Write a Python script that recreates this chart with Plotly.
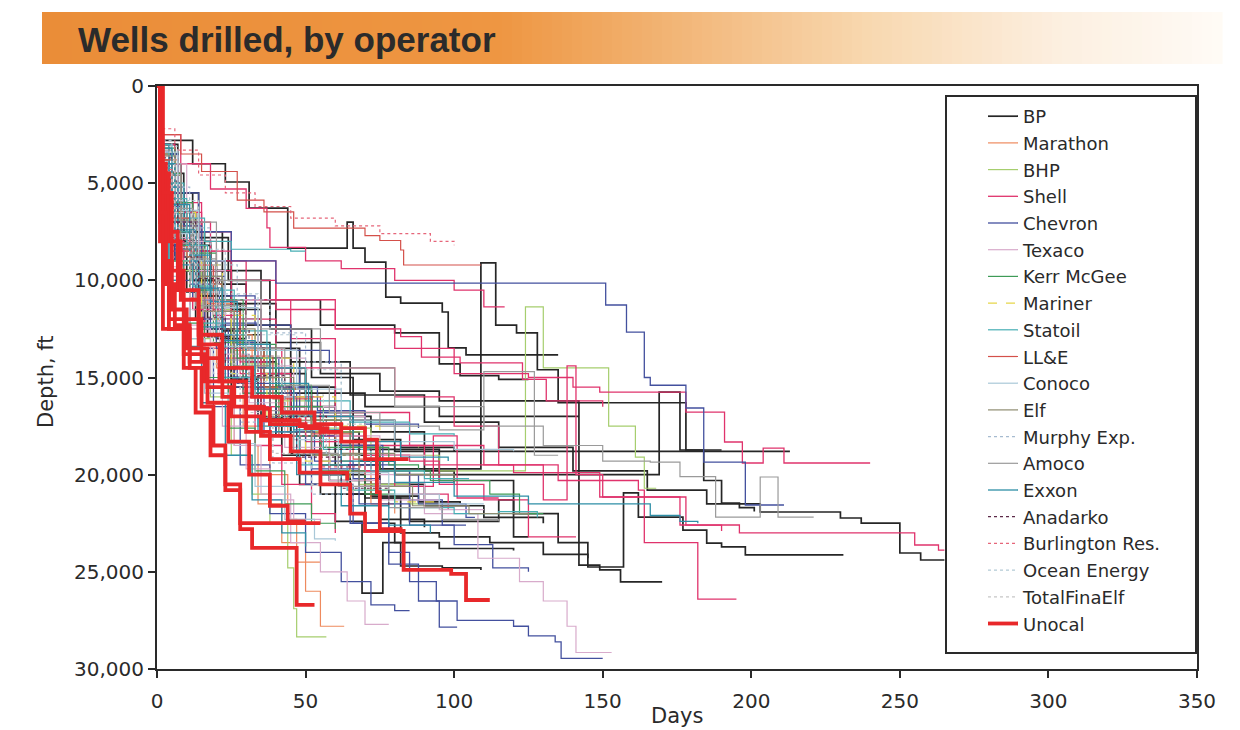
import plotly.graph_objects as go

# ---------------- data (day, depth ft) breakpoints ----------------
OPERATORS = ["BP", "Marathon", "BHP", "Shell", "Chevron", "Texaco", "Kerr McGee", "Mariner",
             "Statoil", "LL&E", "Conoco", "Elf", "Murphy Exp.", "Amoco", "Exxon", "Anadarko",
             "Burlington Res.", "Ocean Energy", "TotalFinaElf", "Unocal"]

X_TICKS = [0, 50, 100, 150, 200, 250, 300, 350]
Y_TICKS = [0, 5000, 10000, 15000, 20000, 25000, 30000]

BP_WELLS = [
    [(0, 0), (1, 2800), (12, 4000), (23, 4940), (31, 6280), (44, 8340), (64, 7000), (66, 8340), (70, 9060),
     (77, 10860), (82, 11170), (96, 11630), (98, 13480), (104, 13840), (135, 13840)],
    [(0, 0), (1, 3500), (4, 6000), (10, 8200), (18, 10200), (30, 12300), (45, 14200), (65, 15900), (90, 17300),
     (115, 18600), (140, 19800), (165, 20800), (185, 21500), (203, 21920), (230, 22230), (237, 22490),
     (250, 24030), (257, 24390), (265, 24390)],
    [(0, 0), (1, 4000), (5, 7000), (12, 9500), (22, 12000), (35, 14500), (50, 16800), (70, 18700), (95, 20300),
     (120, 22000), (135, 23500), (145, 24750), (157, 20940), (162, 22180), (177, 22850), (185, 23520),
     (190, 23720), (198, 24130), (231, 24130)],
    [(0, 0), (2, 3000), (7, 5500), (14, 7800), (24, 10000), (38, 12500), (52, 15000), (66, 17200), (80, 18800),
     (213, 18800)],
    [(0, 0), (1, 4500), (6, 8000), (14, 10800), (25, 13200), (38, 15600), (52, 17800), (68, 19300), (80, 20000),
     (169, 15750), (176, 18730), (184, 20300), (190, 21460), (196, 21700), (201, 21900)],
    [(0, 0), (2, 5000), (8, 8500), (18, 11500), (30, 14000), (45, 16500), (60, 18500), (75, 19700), (109, 9100),
     (114, 12300), (121, 12700), (128, 14600), (135, 16300), (176, 16300), (178, 18730), (190, 18730)],
    [(0, 0), (2, 4000), (8, 7000), (15, 9000), (25, 11200), (40, 13200), (55, 14800), (75, 15700), (95, 16200),
     (142, 24650), (149, 24900), (156, 25520), (170, 25520)],
    [(0, 0), (1, 5000), (6, 9000), (13, 12000), (22, 15000), (35, 18000), (48, 20500), (60, 22400), (69, 26100),
     (76, 23500), (82, 24700), (96, 24800), (109, 24900)],
    [(0, 0), (2, 4500), (9, 8000), (18, 11000), (30, 14000), (45, 17000), (60, 19500), (75, 21200), (82, 23000),
     (95, 23200), (112, 23500), (130, 24100), (145, 24300)],
    [(0, 0), (1, 3500), (5, 7000), (12, 10000), (20, 13000), (30, 16000), (42, 19000), (55, 21000), (70, 22500),
     (80, 23500), (95, 23800), (120, 23900)],
    [(0, 0), (1, 3000), (4, 5500), (9, 7500), (16, 9500), (25, 11500), (35, 13500), (48, 15500), (60, 17000),
     (72, 17800), (90, 19800), (100, 20400)],
    [(0, 0), (2, 3500), (7, 6500), (13, 9000), (20, 11200), (28, 13500), (36, 15500), (45, 17800), (55, 19500),
     (65, 21000), (75, 22300), (90, 22700)],
    [(0, 0), (1, 4000), (5, 7500), (12, 10000), (22, 12800), (35, 14800), (50, 15800), (70, 16500), (95, 17000),
     (142, 17000)],
    [(0, 0), (2, 6000), (8, 9500), (16, 12500), (26, 15000), (40, 17500), (55, 19000), (70, 20500), (90, 21600),
     (110, 22200), (130, 22500)],
    [(0, 0), (1, 5500), (7, 9500), (15, 12500), (25, 15500), (40, 18000), (55, 20000), (70, 21200), (85, 22400),
     (110, 22400), (115, 21300), (120, 23200), (125, 23200)],
    [(0, 0), (1, 3000), (6, 5500), (12, 7500), (22, 9500), (35, 11000), (55, 12300), (80, 12700), (95, 14300),
     (102, 14900), (115, 15100), (125, 15100)],
    [(0, 0), (1, 3800), (4, 6500), (9, 8800), (15, 10800), (22, 12600), (30, 14200), (40, 15800), (52, 17200),
     (66, 18200), (82, 18600), (100, 18800)],
    [(0, 0), (1, 4800), (5, 8200), (10, 10600), (17, 12900), (25, 15100), (34, 17100), (45, 18900), (58, 20300),
     (72, 21100), (88, 21400), (102, 21500)],
]

MARATHON_WELLS = [
    [(0, 0), (1, 5000), (5, 9000), (11, 12500), (18, 15500), (26, 18500), (34, 21500), (42, 23500), (50, 26000),
     (55, 27800), (63, 27800)],
    [(0, 0), (1, 4500), (5, 8500), (12, 11500), (20, 14500), (29, 17500), (38, 20000), (44, 22300), (47, 24500),
     (55, 24500)],
    [(0, 0), (2, 3800), (7, 7200), (14, 10200), (22, 12800), (32, 15500), (44, 17800), (58, 19800), (72, 21500),
     (80, 22000)],
    [(0, 0), (1, 3200), (4, 6000), (10, 8800), (17, 11200), (26, 13600), (36, 15600), (48, 17200), (60, 18200)],
]

BHP_WELLS = [
    [(0, 0), (1, 4000), (6, 7500), (13, 10500), (22, 13500), (35, 16000), (50, 17800), (70, 19000), (95, 19800),
     (124, 11370), (130, 14500), (150, 14500), (152, 17500), (161, 19100), (164, 20700), (168, 20700)],
    [(0, 0), (1, 5500), (5, 9500), (11, 13000), (18, 16000), (25, 19000), (32, 21000), (38, 22500), (44, 24800),
     (46, 26900), (47, 28350), (57, 28350)],
    [(0, 0), (2, 4500), (8, 8500), (15, 11500), (25, 14500), (38, 17000), (52, 19000), (68, 20500), (85, 21500),
     (95, 21500)],
    [(0, 0), (1, 3500), (5, 6800), (11, 9500), (19, 12000), (29, 14300), (41, 16200), (55, 17600), (72, 18500),
     (88, 18600)],
]

SHELL_WELLS = [
    [(0, 0), (2, 4000), (8, 6000), (15, 7500), (25, 9000), (40, 11000), (60, 12500), (80, 13500), (100, 14800),
     (125, 15000), (140, 15500), (149, 15750), (178, 16780), (191, 18320), (197, 19400), (204, 18630),
     (211, 19400), (240, 19400)],
    [(0, 0), (2, 4500), (8, 7000), (18, 9000), (30, 11000), (45, 13000), (60, 14500), (80, 16000), (100, 17500),
     (115, 19500), (130, 21300), (138, 14400), (141, 20000), (150, 21150), (176, 22590), (196, 23000),
     (255, 23620), (263, 23880), (265, 23880)],
    [(0, 0), (1, 4000), (6, 7000), (14, 9500), (25, 12000), (40, 14500), (60, 16800), (85, 18500), (110, 19500),
     (135, 20300), (162, 20800), (164, 23500), (182, 26400), (195, 26400)],
    [(0, 0), (1, 2500), (8, 4000), (18, 5300), (30, 6300), (37, 7300), (38, 8300), (50, 9000), (62, 9400),
     (80, 10000), (100, 10500), (110, 11370), (117, 11370)],
    [(0, 0), (2, 4000), (7, 6500), (15, 8500), (25, 10000), (40, 11500), (60, 12500), (82, 12900), (89, 13950),
     (102, 14250), (123, 15100), (131, 16200), (150, 16500)],
    [(0, 0), (1, 5000), (5, 8500), (12, 11500), (22, 14000), (35, 16500), (50, 18000), (70, 19000), (85, 19300),
     (95, 20500), (110, 21300), (125, 23200), (141, 23200)],
    [(0, 0), (2, 3000), (6, 6000), (12, 8500), (20, 11000), (30, 13500), (42, 16000), (55, 18000), (70, 19800),
     (85, 21000), (98, 21800)],
    [(0, 0), (1, 4500), (4, 8000), (9, 11000), (16, 13500), (24, 16000), (33, 18500), (42, 20500), (52, 22000),
     (60, 23000)],
    [(0, 0), (2, 5500), (8, 9000), (16, 12000), (28, 14800), (45, 17000), (65, 18500), (90, 19500), (120, 19900),
     (149, 21150), (176, 21150), (178, 22600), (190, 22900)],
    [(0, 0), (1, 3500), (5, 6500), (11, 9200), (19, 11800), (28, 14200), (38, 16500), (50, 18300), (65, 19800),
     (80, 20600), (92, 20600), (93, 18000), (100, 18000), (101, 21200), (115, 21200)],
]

CHEVRON_WELLS = [
    [(0, 0), (1, 3500), (6, 5500), (14, 7500), (25, 9000), (40, 10140), (151, 11270), (158, 12660), (164, 15000),
     (166, 15400), (178, 16570), (184, 19350), (198, 21560), (211, 21560)],
    [(0, 0), (1, 5000), (6, 9000), (14, 12500), (24, 15500), (36, 18000), (50, 20500), (65, 22500), (78, 24000),
     (85, 25500), (94, 26500), (101, 27500), (120, 27800), (125, 28300), (134, 28600), (136, 29450), (150, 29450)],
    [(0, 0), (1, 6000), (5, 10000), (11, 13500), (19, 16500), (28, 19500), (38, 22000), (50, 24000), (62, 25500),
     (72, 26700), (80, 27000), (85, 27000)],
    [(0, 0), (2, 5000), (8, 9000), (16, 12000), (26, 15000), (38, 18000), (52, 20500), (66, 22500), (78, 24600),
     (88, 26500), (95, 27850), (101, 27850)],
    [(0, 0), (1, 4000), (6, 7500), (13, 10500), (22, 13200), (33, 15800), (47, 18000), (62, 19500), (80, 20000),
     (88, 21500), (104, 22200), (107, 22200)],
    [(0, 0), (2, 3500), (7, 7000), (14, 9800), (23, 12200), (34, 14500), (48, 16800), (62, 18500), (76, 19800),
     (85, 21300), (96, 22600), (104, 22600)],
    [(0, 0), (1, 3000), (4, 5200), (9, 7200), (15, 9000), (23, 10800), (33, 12300), (45, 13600), (58, 14300)],
    [(0, 0), (1, 4200), (5, 7800), (11, 10200), (18, 12800), (27, 15300), (38, 17500), (52, 19700), (68, 21500),
     (85, 22600), (100, 23600), (113, 24800), (125, 25000)],
    [(0, 0), (1, 3400), (4, 6200), (8, 8400), (14, 10400), (21, 12300), (30, 14000), (41, 15500), (54, 16700),
     (70, 17400), (88, 17600)],
    [(0, 0), (2, 4600), (6, 8200), (12, 11000), (20, 13500), (29, 15800), (40, 17800), (53, 19300), (66, 20200),
     (75, 20500)],
]

TEXACO_WELLS = [
    [(0, 0), (2, 4000), (10, 8000), (20, 11000), (35, 14000), (50, 17000), (70, 20000), (90, 22000), (108, 24300),
     (122, 25500), (130, 26500), (138, 27800), (141, 29150), (153, 29150)],
    [(0, 0), (1, 5000), (5, 9000), (11, 12500), (18, 15500), (26, 18500), (35, 21000), (45, 23500), (55, 25000),
     (64, 26500), (70, 27700), (78, 27700)],
    [(0, 0), (1, 4000), (6, 7800), (13, 11000), (21, 13800), (31, 16300), (43, 18600), (58, 20300), (75, 21300),
     (95, 21800), (110, 21800)],
    [(0, 0), (2, 3600), (7, 6800), (14, 9500), (23, 12000), (34, 14400), (46, 16500), (60, 18000), (75, 19000),
     (90, 19200)],
    [(0, 0), (1, 5200), (4, 9300), (9, 12300), (15, 15000), (22, 17500), (30, 19700), (38, 21300), (46, 22300),
     (55, 22500)],
]

KERR_MCGEE_WELLS = [
    [(0, 0), (1, 4000), (5, 7500), (11, 10500), (19, 13200), (29, 15800), (41, 18000), (55, 19800), (70, 21000),
     (80, 21200)],
    [(0, 0), (2, 3200), (6, 6000), (12, 8600), (20, 11000), (29, 13300), (40, 15400), (52, 17200), (65, 18600),
     (78, 19500), (88, 19700)],
    [(0, 0), (1, 5000), (4, 9000), (9, 12200), (16, 15000), (24, 17600), (33, 19800), (43, 21500), (52, 22500),
     (60, 22800)],
    [(0, 0), (2, 4500), (8, 8200), (16, 11300), (27, 14000), (40, 16500), (56, 18600), (75, 19800), (92, 20300),
     (112, 21000), (122, 22000), (130, 22000)],
]

MARINER_WELLS = [
    [(0, 0), (1, 3500), (6, 6500), (13, 9200), (22, 11800), (33, 14000), (46, 16000), (60, 17500), (75, 18300)],
    [(0, 0), (2, 5000), (7, 9000), (15, 12000), (25, 14800), (37, 17300), (50, 19300), (65, 20800), (80, 21400),
     (95, 21500)],
]

STATOIL_WELLS = [
    [(0, 0), (1, 4200), (5, 7500), (12, 10300), (20, 12800), (30, 15000), (42, 17000), (56, 18700), (72, 19800),
     (90, 20200), (105, 20200)],
    [(0, 0), (1, 3000), (5, 5800), (10, 8200), (17, 10500), (26, 12600), (37, 14500), (50, 16200), (65, 17300),
     (85, 17900), (100, 18000)],
    [(0, 0), (2, 5000), (7, 9000), (14, 12200), (23, 15000), (34, 17500), (48, 19500), (64, 20800), (80, 21700),
     (100, 22000), (115, 21900), (128, 22200)],
    [(0, 0), (1, 3000), (4, 5000), (9, 6800), (16, 8000), (25, 8400), (45, 8500), (50, 8500)],
]

LLE_WELLS = [
    [(0, 0), (1, 2500), (8, 3500), (15, 4400), (27, 5870), (36, 6480), (46, 7310), (69, 7310), (70, 7700),
     (75, 7950), (82, 8440), (83, 9210), (109, 9210)],
    [(0, 0), (1, 3800), (5, 6800), (11, 9200), (19, 11600), (28, 13900), (39, 16100), (52, 17900), (66, 19200),
     (80, 19900)],
]

CONOCO_WELLS = [
    [(0, 0), (1, 4000), (6, 7600), (13, 10600), (22, 13400), (33, 16000), (46, 18200), (61, 19900), (78, 21000),
     (95, 21500), (110, 21500)],
    [(0, 0), (2, 3400), (7, 6400), (14, 9000), (23, 11400), (34, 13600), (47, 15600), (62, 17200), (80, 18300),
     (100, 18700), (120, 18800)],
    [(0, 0), (1, 5500), (4, 9800), (9, 13000), (16, 15800), (24, 18400), (33, 20600), (43, 22300), (53, 23300),
     (60, 23400)],
]

ELF_WELLS = [
    [(0, 0), (1, 3600), (6, 6900), (13, 9800), (22, 12500), (33, 15000), (46, 17200), (62, 18900), (80, 20000),
     (100, 20500)],
    [(0, 0), (2, 4600), (8, 8400), (16, 11600), (26, 14400), (38, 16900), (52, 19000), (68, 20600), (86, 21600),
     (105, 22000), (125, 22100)],
]

MURPHY_WELLS = [
    [(0, 0), (1, 2800), (5, 5200), (11, 7300), (18, 9200), (27, 11000), (38, 12700), (50, 14200), (62, 15300)],
    [(0, 0), (1, 4800), (5, 8800), (11, 12000), (19, 14800), (28, 17300), (39, 19400), (52, 21000), (65, 21800)],
]

AMOCO_WELLS = [
    [(0, 0), (2, 4000), (8, 7000), (20, 10000), (35, 12500), (55, 14500), (80, 16500), (110, 17500), (130, 18500),
     (150, 19300), (166, 19350), (176, 20100), (188, 22180), (203, 20120), (209, 22180), (221, 22180)],
    [(0, 0), (1, 4400), (6, 8100), (13, 11300), (22, 14100), (33, 16700), (46, 18900), (61, 20600), (78, 21700),
     (96, 22300), (115, 22400)],
    [(0, 0), (1, 3300), (5, 6300), (12, 8900), (20, 11300), (30, 13500), (43, 15400), (58, 16800), (75, 17500),
     (95, 17700), (110, 14700), (125, 14700), (127, 19000), (135, 19000)],
]

EXXON_WELLS = [
    [(0, 0), (1, 4000), (6, 7400), (13, 10400), (22, 13100), (33, 15600), (46, 17700), (62, 19300), (80, 20400),
     (100, 21100), (125, 21500), (150, 21500), (166, 22100), (176, 22400), (182, 22500)],
    [(0, 0), (2, 5200), (7, 9200), (14, 12400), (23, 15200), (34, 17800), (47, 20000), (62, 21600), (78, 22600),
     (92, 23000)],
    [(0, 0), (1, 3200), (5, 6100), (11, 8700), (18, 11100), (27, 13300), (38, 15300), (51, 17000), (66, 18300),
     (82, 19100), (98, 19300)],
    [(0, 0), (1, 5800), (4, 10000), (9, 13400), (15, 16300), (23, 19000), (32, 21300), (42, 23000), (50, 23700)],
]

ANADARKO_WELLS = [
    [(0, 0), (1, 3700), (6, 7000), (13, 9900), (21, 12500), (31, 14900), (43, 17000), (57, 18700), (72, 19800)],
    [(0, 0), (2, 4900), (7, 8800), (14, 11900), (23, 14600), (34, 17000), (47, 19100), (62, 20700), (78, 21600)],
]

BURLINGTON_WELLS = [
    [(0, 0), (1, 2200), (6, 3300), (14, 4580), (23, 5500), (33, 6200), (45, 6800), (60, 7200), (75, 7600),
     (92, 8000), (100, 8200)],
    [(0, 0), (1, 4300), (5, 7900), (11, 10900), (19, 13500), (29, 15900), (41, 18000), (55, 19600), (70, 20600)],
]

OCEAN_ENERGY_WELLS = [
    [(0, 0), (1, 3900), (6, 7300), (13, 10200), (21, 12800), (31, 15200), (43, 17300), (57, 19000), (72, 20100)],
    [(0, 0), (2, 3100), (7, 5900), (14, 8400), (23, 10700), (34, 12800), (47, 14600), (62, 16000)],
]

TOTALFINAELF_WELLS = [
    [(0, 0), (1, 4500), (5, 8300), (11, 11500), (19, 14300), (28, 16800), (39, 18900), (52, 20500), (66, 21500)],
    [(0, 0), (1, 3400), (6, 6500), (12, 9200), (20, 11700), (30, 13900), (42, 15900), (56, 17400), (70, 18300)],
]

UNOCAL_WELLS = [
    [(0, 0), (1, 6000), (3, 9000), (4, 12500), (8, 12500), (11, 14500), (15, 16500), (19, 18500), (23, 20500),
     (28, 22800), (32, 23770), (46, 23770), (47, 26700), (53, 26700)],
    [(0, 0), (1, 4000), (3, 7500), (7, 10500), (14, 12800), (22, 14500), (32, 16000), (42, 16800), (53, 17400),
     (62, 17600), (70, 18200), (74, 20900), (75, 22800), (82, 22900), (83, 24900), (99, 25100), (104, 26450),
     (112, 26450)],
    [(0, 0), (1, 5000), (2, 9000), (5, 11500), (10, 13500), (17, 15500), (25, 17000), (35, 18000), (45, 18800),
     (55, 20500), (65, 22000), (70, 22900), (82, 22900)],
    [(0, 0), (1, 7000), (2, 10000), (4, 12000), (9, 13800), (16, 15200), (26, 16500), (36, 17200), (48, 17500),
     (55, 17800), (62, 18300), (70, 19200), (84, 19300)],
    [(0, 0), (1, 8000), (2, 12500), (6, 12500), (9, 14500), (13, 16800), (18, 19000), (23, 20800), (28, 22490),
     (55, 22490)],
    [(0, 0), (1, 4500), (4, 8000), (8, 11000), (14, 13300), (21, 15200), (30, 16600), (38, 17400), (50, 17600),
     (58, 17600)],
    [(0, 0), (1, 6500), (3, 10200), (6, 12300), (11, 14200), (17, 16300), (24, 18300), (31, 20000), (38, 21600),
     (44, 22400), (50, 22400)],
    [(0, 0), (2, 5500), (5, 9500), (9, 12000), (15, 14000), (22, 16000), (30, 17800), (38, 19200), (48, 19900),
     (64, 20300)],
]

WELLS_BY_OPERATOR = {
    "BP": BP_WELLS, "Marathon": MARATHON_WELLS, "BHP": BHP_WELLS, "Shell": SHELL_WELLS,
    "Chevron": CHEVRON_WELLS, "Texaco": TEXACO_WELLS, "Kerr McGee": KERR_MCGEE_WELLS,
    "Mariner": MARINER_WELLS, "Statoil": STATOIL_WELLS, "LL&E": LLE_WELLS, "Conoco": CONOCO_WELLS,
    "Elf": ELF_WELLS, "Murphy Exp.": MURPHY_WELLS, "Amoco": AMOCO_WELLS, "Exxon": EXXON_WELLS,
    "Anadarko": ANADARKO_WELLS, "Burlington Res.": BURLINGTON_WELLS, "Ocean Energy": OCEAN_ENERGY_WELLS,
    "TotalFinaElf": TOTALFINAELF_WELLS, "Unocal": UNOCAL_WELLS,
}

# ---------------- styles ----------------
STYLE = {
    "BP": ("#262626", 1.7, "solid"),
    "Marathon": ("#EE8A5E", 1.2, "solid"),
    "BHP": ("#A6CE6E", 1.2, "solid"),
    "Shell": ("#E0336C", 1.3, "solid"),
    "Chevron": ("#43509E", 1.3, "solid"),
    "Texaco": ("#D8ABCB", 1.2, "solid"),
    "Kerr McGee": ("#3E9B57", 1.2, "solid"),
    "Mariner": ("#E6D64A", 1.2, "dash"),
    "Statoil": ("#47AEB4", 1.2, "solid"),
    "LL&E": ("#D4504A", 1.2, "solid"),
    "Conoco": ("#A9C8D8", 1.2, "solid"),
    "Elf": ("#8E8C70", 1.2, "solid"),
    "Murphy Exp.": ("#A6BBD0", 1.2, "dot"),
    "Amoco": ("#9A9A9A", 1.2, "solid"),
    "Exxon": ("#2E8EA6", 1.3, "solid"),
    "Anadarko": ("#5C2A48", 1.2, "dot"),
    "Burlington Res.": ("#E6667A", 1.2, "dot"),
    "Ocean Energy": ("#B3CAD5", 1.2, "dot"),
    "TotalFinaElf": ("#C6C6C6", 1.2, "dot"),
    "Unocal": ("#E8282A", 3.8, "solid"),
}

W, H = 1240, 730
ML, MR, MT, MB = 157, 43, 86, 61
PW, PH = W - ML - MR, H - MT - MB


def px_x(px):
    return (px - ML) / PW


def px_y(py):
    return (H - MB - py) / PH


TITLE_FONT = "Liberation Sans, Arial, Helvetica, sans-serif"
FONT = "DejaVu Sans, Liberation Sans, Arial, sans-serif"

fig = go.Figure()
for op in OPERATORS:
    color, width, dash = STYLE[op]
    for i, well in enumerate(WELLS_BY_OPERATOR[op]):
        fig.add_trace(go.Scatter(
            x=[p[0] for p in well], y=[p[1] for p in well], mode="lines",
            line=dict(color=color, width=width, dash=dash, shape="hv"),
            name=op, legendgroup=op, showlegend=(i == 0), hoverinfo="skip"))

shapes = []
# title banner gradient (orange -> white)
stops = [(42, (234, 141, 56)), (500, (238, 150, 66)), (680, (242, 182, 120)),
         (870, (248, 216, 176)), (1060, (252, 239, 224)), (1222, (255, 251, 246))]
n = 118
x0, x1 = 42, 1222
for k in range(n):
    a = x0 + (x1 - x0) * k / n
    b = x0 + (x1 - x0) * (k + 1) / n + 0.6
    m = (a + b) / 2
    for j in range(len(stops) - 1):
        if stops[j][0] <= m <= stops[j + 1][0]:
            t = (m - stops[j][0]) / (stops[j + 1][0] - stops[j][0])
            c = [round(stops[j][1][q] + t * (stops[j + 1][1][q] - stops[j][1][q])) for q in range(3)]
            break
    shapes.append(dict(type="rect", xref="paper", yref="paper", x0=px_x(a), x1=px_x(b),
                       y0=px_y(64), y1=px_y(12), line=dict(width=0),
                       fillcolor="rgb(%d,%d,%d)" % tuple(c), layer="below"))
# legend frame
shapes.append(dict(type="rect", xref="paper", yref="paper", x0=px_x(946), x1=px_x(1196),
                   y0=px_y(653), y1=px_y(96), line=dict(color="#2a2a2a", width=2),
                   fillcolor="white", layer="above"))

annotations = [
    dict(text="Wells drilled, by operator", xref="paper", yref="paper", x=px_x(76), y=px_y(39),
         xanchor="left", yanchor="middle", showarrow=False,
         font=dict(family=TITLE_FONT, size=35, color="#2b2b2b", weight="bold")),
    dict(text="Days", xref="paper", yref="paper", x=0.5, y=px_y(716), xanchor="center", yanchor="middle",
         showarrow=False, font=dict(family=FONT, size=21, color="#2a2a2a")),
    dict(text="Depth, ft", xref="paper", yref="paper", x=px_x(46), y=px_y(382), xanchor="center",
         yanchor="middle", textangle=-90, showarrow=False, font=dict(family=FONT, size=21, color="#2a2a2a")),
]

fig.update_layout(
    width=W, height=H, autosize=False,
    margin=dict(l=ML, r=MR, t=MT, b=MB, pad=0),
    paper_bgcolor="white", plot_bgcolor="white",
    shapes=shapes, annotations=annotations,
    showlegend=True,
    legend=dict(x=px_x(983), y=px_y(98), xanchor="left", yanchor="top", bgcolor="rgba(0,0,0,0)",
                borderwidth=0, traceorder="grouped", tracegroupgap=0.3, itemwidth=30,
                font=dict(family=FONT, size=18, color="#2a2a2a")),
    xaxis=dict(range=[0, 350], tickvals=X_TICKS, ticks="outside", ticklen=7, tickwidth=1.5,
               tickcolor="#2a2a2a", showline=True, linecolor="#2a2a2a", linewidth=2, mirror=True,
               showgrid=False, zeroline=False, ticklabelstandoff=6,
               tickfont=dict(family=FONT, size=20, color="#2a2a2a")),
    yaxis=dict(range=[30000, 0], tickvals=Y_TICKS, tickformat=",d", ticks="outside", ticklen=7,
               tickwidth=1.5, tickcolor="#2a2a2a", showline=True, linecolor="#2a2a2a", linewidth=2,
               mirror=True, showgrid=False, zeroline=False,
               tickfont=dict(family=FONT, size=20, color="#2a2a2a")),
)

fig.write_html("out.html")
